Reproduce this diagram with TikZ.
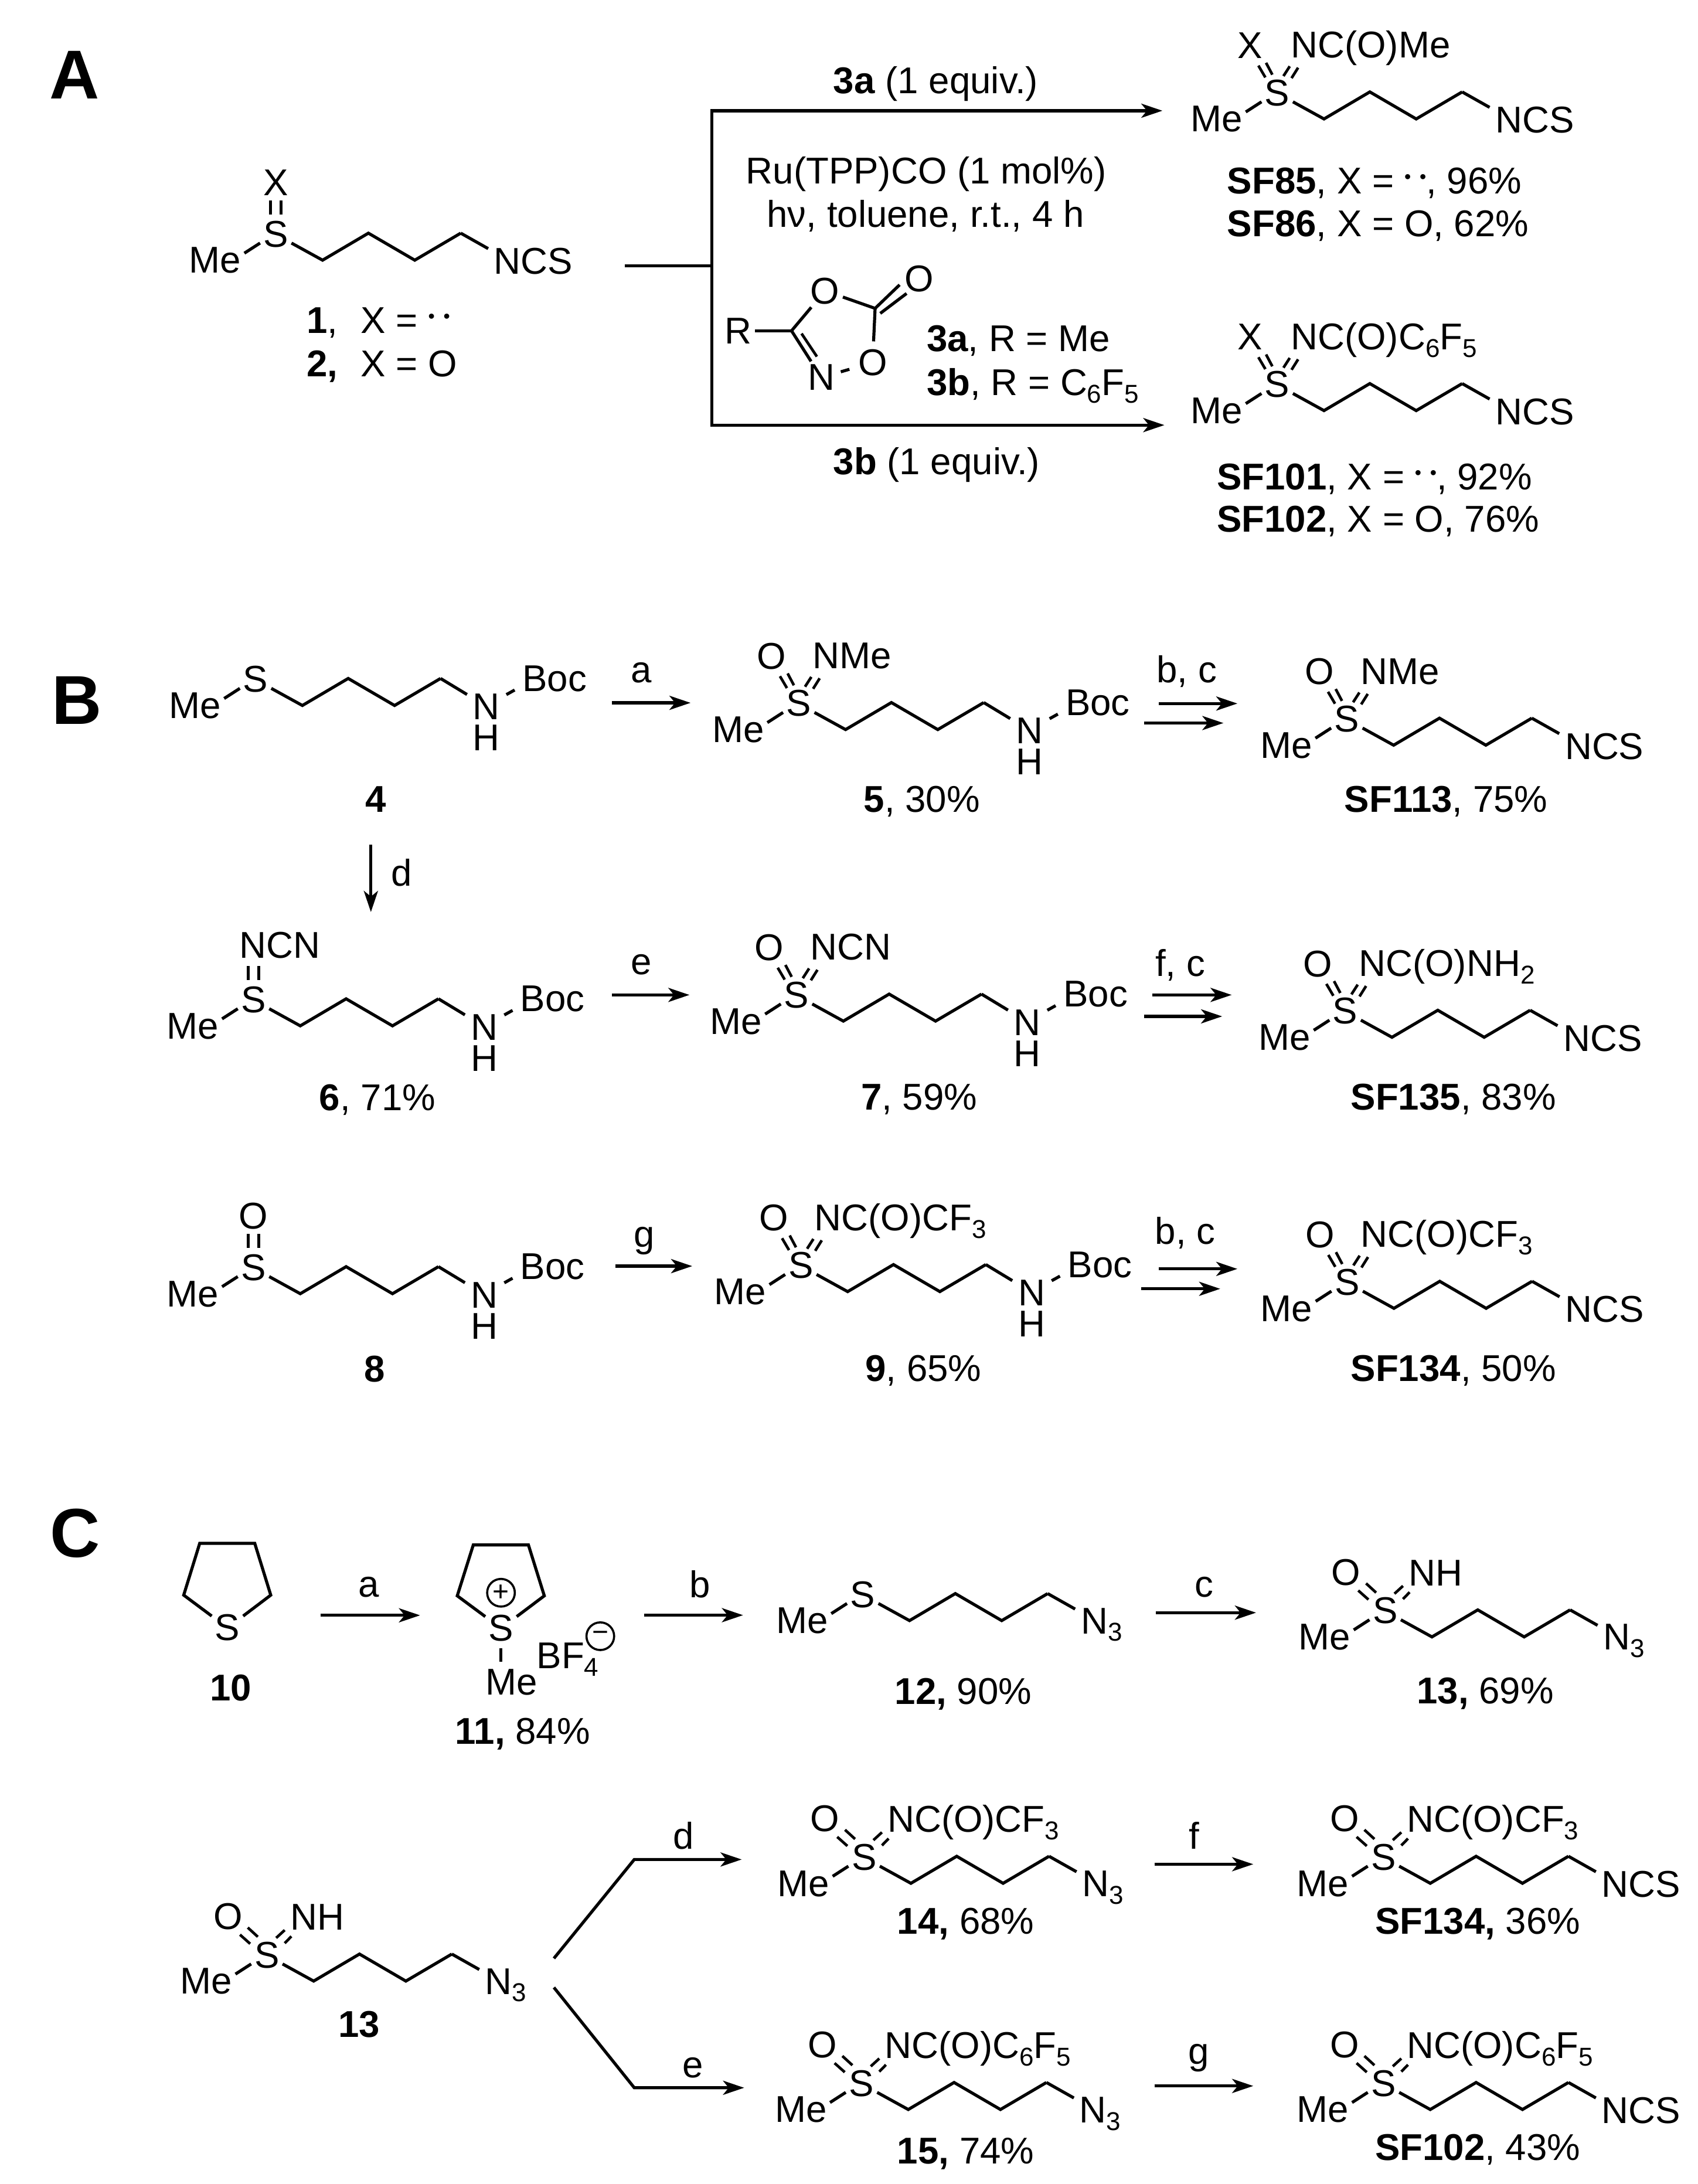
\documentclass[tikz,border=0pt]{standalone}
\usepackage{fontspec}
\setmainfont{Liberation Sans}
\usetikzlibrary{arrows.meta}
\newcommand{\sbs}[1]{\raisebox{-3.2pt}{\fontsize{11}{11}\selectfont #1}}
\newcommand{\lpair}{\raisebox{4.5pt}{\fontsize{8}{8}\selectfont •\kern3.7pt•}}
\tikzset{
  x=0.594pt,y=-0.594pt,
  every node/.style={font=\fontsize{15.9}{17}\selectfont,inner sep=0pt,text=black},
  atom/.style={inner sep=1.2pt,anchor=center},
  lab/.style={anchor=base west},
  labc/.style={anchor=base},
  panel/.style={anchor=base,font=\fontsize{29.5}{30}\selectfont\bfseries},
  bond/.style={draw=black,line width=1.3pt,line join=miter},
  thin bond/.style={draw=black,line width=1.15pt},
  rxn/.style={draw=black,line width=1.3pt,-{Stealth[length=9pt,width=6pt,inset=2.4pt]}},
  plainrxn/.style={draw=black,line width=1.3pt},
  charge/.style={circle,draw=black,line width=0.9pt,minimum size=11.8pt,inner sep=0pt,font=\fontsize{12}{12}\selectfont}
}
% molecule: prefix, x, y, upper part, tail part
\newcommand{\mol}[5]{%
\begin{scope}[shift={(#2,#3)}]
  \node[atom] (#1S) at (0,0) {S};
  \node[atom] (#1M) at (-43.5,19) {Me};
  \coordinate (#1c1) at (33.6,18.8);
  \coordinate (#1c2) at (66.5,-0.6);
  \coordinate (#1c3) at (99.8,18.8);
  \coordinate (#1c4) at (132.8,-0.6);
  \draw[bond] (#1M.14) -- (#1S.210);
  \draw[bond] (#1S.-30) -- (#1c1) -- (#1c2) -- (#1c3) -- (#1c4);
  #4
  #5
\end{scope}}
% upper groups, narrow (panels A and B)
\newcommand{\upn}[3]{%
  \node[atom] (#1X) at (-19.5,-34) {#2};
  \node[lab] (#1G) at (9.5,-25) {#3};
  \draw[thin bond] (-13.5,-19.5) -- (-8.5,-11);
  \draw[thin bond] (-8,-21.5) -- (-3.5,-13);
  \draw[thin bond] (15,-18) -- (10.3,-10.5);
  \draw[thin bond] (9,-19) -- (4.5,-12);}
% upper groups, wide (panel C)
\newcommand{\upw}[3]{%
  \node[atom] (#1X) at (-28,-27.5) {#2};
  \node[lab] (#1G) at (16.5,-18) {#3};
  \draw[thin bond] (-19.3,-14.5) -- (-12,-8);
  \draw[thin bond] (-13.7,-19.6) -- (-6.5,-13);
  \draw[thin bond] (6.7,-12.2) -- (12.8,-17.8);
  \draw[thin bond] (12.8,-8.4) -- (17.6,-13.3);}
% upper group, vertical double bond
\newcommand{\upv}[2]{%
  \node[atom] (#1X) at (0,-37) {#2};
  \draw[thin bond] (-3.8,-24) -- (-3.8,-14);
  \draw[thin bond] (3.8,-24) -- (3.8,-14);}
\newcommand{\upvn}[2]{%
  \node[lab] (#1X) at (-10.4,-30) {#2};
  \draw[thin bond] (-3.8,-24) -- (-3.8,-14);
  \draw[thin bond] (3.8,-24) -- (3.8,-14);}
% chain tails
\newcommand{\tailncs}[1]{%
  \coordinate (#1c6) at (152.5,10.5);
  \node[lab] (#1E) at (156.3,28.8) {NCS};
  \draw[bond] (#1c4) -- (#1c6);}
\newcommand{\tailaz}[1]{%
  \coordinate (#1c6) at (152.5,10.5);
  \node[lab] (#1E) at (156.3,28.2) {N\sbs{3}};
  \draw[bond] (#1c4) -- (#1c6);}
\newcommand{\tailboc}[1]{%
  \coordinate (#1c6) at (151.8,10.9);
  \coordinate (#1b) at (186,7.7);
  \node[atom] (#1N) at (165.7,19.8) {N};
  \node[anchor=center] (#1H) at (165.7,42) {H};
  \node[atom] (#1B) at (214.7,-0.5) {Boc};
  \draw[bond] (#1c4) -- (#1c6);
  \draw[bond,shorten <=1.6pt] (#1N.32) -- (#1b);}
\newcommand{\rxnh}[4]{%
  \coordinate (#1s) at (#2,#3); \coordinate (#1e) at (#4,#3);
  \draw[rxn] (#1s) -- (#1e);}
\begin{document}
\begin{tikzpicture}
\useasboundingbox (0,0) rectangle (1219,1568);
\path[fill=white] (0,0) rectangle (1219,1568);

% ---------- panel letters
\node[panel] (pA) at (53.7,71) {A};
\node[panel] (pB) at (55,520) {B};
\node[panel] (pC) at (54,1118) {C};

% ---------- panel A
\mol{a}{198}{168}{\upv{a}{X}}{\tailncs{a}}
\node[lab] (l1) at (220,239.4) {\makebox[23pt][l]{\textbf{1},}X = \lpair};
\node[lab] (l2) at (220,270.5) {\makebox[23pt][l]{\textbf{2,}}X = O};

\coordinate (jstart) at (448.8,191);
\coordinate (jmid) at (511,191);
\coordinate (jtop) at (511,79.5);
\coordinate (jbot) at (511,305.2);
\coordinate (etop) at (834.6,79.5);
\coordinate (ebot) at (836,305.2);
\draw[plainrxn] (jstart) -- (jmid);
\draw[rxn] (jmid) -- (jtop) -- (etop);
\draw[rxn] (jmid) -- (jbot) -- (ebot);
\node[lab] (c3a) at (598,67) {\textbf{3a} (1 equiv.)};
\node[lab] (c3b) at (598,340.8) {\textbf{3b} (1 equiv.)};
\node[labc] (ru) at (665,132) {Ru(TPP)CO (1 mol\%)};
\node[labc] (hv) at (664.5,163.2) {hν, toluene, r.t., 4 h};

% oxadiazolone
\node[atom] (rR) at (530.2,237.5) {R};
\node[atom] (rO1) at (592.4,208.8) {O};
\node[atom] (rO2) at (626.5,260.3) {O};
\node[atom] (rO3) at (659.8,200) {O};
\node[atom] (rN) at (589.7,271) {N};
\coordinate (rC3) at (568.3,237.5);
\coordinate (rC5) at (628.3,221.4);
\coordinate (rC3b) at (575.5,239.5);
\coordinate (rC3c) at (586.5,256);
\coordinate (rD1) at (645.9,204.5);
\coordinate (rD2) at (632,225);
\coordinate (rD3) at (650.9,210.7);
\draw[bond] (rR) -- (rC3);
\draw[bond] (rC3) -- (rO1);
\draw[bond] (rC3) -- (rN);
\draw[thin bond] (rC3b) -- (rC3c);
\draw[bond] (rO1) -- (rC5);
\draw[bond,shorten >=2pt] (rC5) -- (rO2);
\draw[bond,shorten <=1.2pt,shorten >=2.4pt] (rN) -- (rO2);
\draw[bond] (rC5) -- (rD1);
\draw[bond] (rD2) -- (rD3);
\node[lab] (k3a) at (665,252.3) {\textbf{3a}, R = Me};
\node[lab] (k3b) at (665,284) {\textbf{3b}, R = C\sbs{6}F\sbs{5}};

\mol{s85}{917}{66.6}{\upn{s85}{X}{NC(O)Me}}{\tailncs{s85}}
\node[lab] (n85) at (880.8,139) {\textbf{SF85}, X = \lpair, 96\%};
\node[lab] (n86) at (880.8,169.6) {\textbf{SF86}, X = O, 62\%};
\mol{s101}{917}{276}{\upn{s101}{X}{NC(O)C\sbs{6}F\sbs{5}}}{\tailncs{s101}}
\node[lab] (n101) at (873.4,351.6) {\textbf{SF101}, X = \lpair, 92\%};
\node[lab] (n102) at (873.4,381.9) {\textbf{SF102}, X = O, 76\%};

% ---------- panel B
\mol{m4}{183.5}{487.7}{}{\tailboc{m4}}
\node[labc] (n4) at (270,583.1) {\textbf{4}};
\rxnh{ba}{439.4}{504.6}{495.8}
\node[labc] (ta) at (460.3,490.1) {a};
\mol{m5}{573.5}{505}{\upn{m5}{O}{NMe}}{\tailboc{m5}}
\node[lab] (n5) at (619.8,583.1) {\textbf{5}, 30\%};
\rxnh{bb1}{832}{505.1}{888.4}
\rxnh{bb2}{821.5}{519.1}{878.4}
\node[labc] (tbc) at (852,490.1) {b, c};
\mol{m113}{967}{516.2}{\upn{m113}{O}{NMe}}{\tailncs{m113}}
\node[lab] (n113) at (965,583.1) {\textbf{SF113}, 75\%};

\coordinate (bds) at (266.3,606.5);
\coordinate (bde) at (266.3,654.8);
\draw[rxn] (bds) -- (bde);
\node[labc] (td) at (288.3,636.2) {d};

\mol{m6}{182}{717.7}{\upvn{m6}{NCN}}{\tailboc{m6}}
\node[lab] (n6) at (229,797.4) {\textbf{6}, 71\%};
\rxnh{be}{439.4}{714.3}{495}
\node[labc] (te) at (460.3,699.8) {e};
\mol{m7}{571.9}{714.3}{\upn{m7}{O}{NCN}}{\tailboc{m7}}
\node[lab] (n7) at (617.9,796.9) {\textbf{7}, 59\%};
\rxnh{bf1}{827.4}{714.3}{884.3}
\rxnh{bf2}{821.5}{729.7}{877.5}
\node[labc] (tfc) at (847.4,700.7) {f, c};
\mol{m135}{965.8}{725.9}{\upn{m135}{O}{NC(O)NH\sbs{2}}}{\tailncs{m135}}
\node[lab] (n135) at (969.5,796.9) {\textbf{SF135}, 83\%};

\mol{m8}{182}{910}{\upv{m8}{O}}{\tailboc{m8}}
\node[labc] (n8) at (269,992) {\textbf{8}};
\rxnh{bg}{442}{909}{497}
\node[labc] (tg) at (462.5,895.5) {g};
\mol{m9}{575}{908.5}{\upn{m9}{O}{NC(O)CF\sbs{3}}}{\tailboc{m9}}
\node[lab] (n9) at (621,991.6) {\textbf{9}, 65\%};
\rxnh{bh1}{832}{911}{888.4}
\rxnh{bh2}{819.2}{925.3}{876.1}
\node[labc] (tbc2) at (851,893.1) {b, c};
\mol{m134}{967.2}{920.5}{\upn{m134}{O}{NC(O)CF\sbs{3}}}{\tailncs{m134}}
\node[lab] (n134) at (969.5,991.6) {\textbf{SF134}, 50\%};

% ---------- panel C
\node[atom] (t10S) at (163.3,1168.4) {S};
\coordinate (t10a) at (131.9,1145.2);
\coordinate (t10b) at (143.4,1108);
\coordinate (t10c) at (182.9,1108);
\coordinate (t10d) at (194.4,1145.2);
\draw[bond] (t10S.144) -- (t10a) -- (t10b) -- (t10c) -- (t10d) -- (t10S.36);
\node[labc] (n10) at (165.8,1221) {\textbf{10}};
\rxnh{ca}{230}{1159.7}{301.6}
\node[labc] (tca) at (264.6,1146.6) {a};

\node[atom] (t11S) at (359.7,1168.8) {S};
\coordinate (t11a) at (328.3,1145.7);
\coordinate (t11b) at (339.8,1109.2);
\coordinate (t11c) at (379.4,1109.2);
\coordinate (t11d) at (390.8,1145.7);
\draw[bond] (t11S.144) -- (t11a) -- (t11b) -- (t11c) -- (t11d) -- (t11S.36);
\node[charge] (t11p) at (359.7,1143.5) {+};
\node[labc] (t11M) at (367.4,1216.8) {Me};
\coordinate (t11m) at (359.7,1193);
\draw[bond,shorten <=1.6pt] (t11S.south) -- (t11m);
\node[lab] (t11B) at (385,1198) {BF\sbs{4}};
\node[charge] (t11n) at (431,1174.7) {−};
\node[lab] (n11) at (326.6,1252) {\textbf{11,} 84\%};
\rxnh{cb}{462.4}{1159.6}{533.5}
\node[labc] (tcb) at (502.7,1146.8) {b};

\mol{m12}{619.4}{1144.7}{}{\tailaz{m12}}
\node[lab] (n12) at (642.2,1223.6) {\textbf{12,} 90\%};
\rxnh{cc}{830}{1157.8}{901.8}
\node[labc] (tcc) at (864.5,1146.6) {c};
\mol{m13}{994.5}{1156.4}{\upw{m13}{O}{NH}}{\tailaz{m13}}
\node[lab] (n13) at (1016.9,1223.3) {\textbf{13,} 69\%};

\mol{b13}{191.6}{1403.5}{\upw{b13}{O}{NH}}{\tailaz{b13}}
\node[labc] (nb13) at (257.9,1462.4) {\textbf{13}};
\coordinate (dsa) at (397.7,1406);
\coordinate (dco) at (455.4,1335);
\coordinate (dend) at (532.5,1335);
\draw[rxn] (dsa) -- (dco) -- (dend);
\node[labc] (tcd) at (490.9,1327.5) {d};
\coordinate (esa) at (397.7,1426.9);
\coordinate (eco) at (455.4,1498.9);
\coordinate (eend) at (534.3,1498.9);
\draw[rxn] (esa) -- (eco) -- (eend);
\node[labc] (tce) at (497.6,1491.7) {e};

\mol{m14}{620.4}{1333.3}{\upw{m14}{O}{NC(O)CF\sbs{3}}}{\tailaz{m14}}
\node[lab] (n14) at (643.9,1388.7) {\textbf{14,} 68\%};
\mol{m15}{618.5}{1495.7}{\upw{m15}{O}{NC(O)C\sbs{6}F\sbs{5}}}{\tailaz{m15}}
\node[lab] (n15) at (643.9,1553.4) {\textbf{15,} 74\%};
\rxnh{cf}{828.9}{1338.4}{899.8}
\node[labc] (tcf) at (857.3,1327.5) {f};
\rxnh{cg}{828.9}{1497.6}{899.8}
\node[labc] (tcg) at (860.7,1482) {g};
\mol{s134}{993.3}{1333.3}{\upw{s134}{O}{NC(O)CF\sbs{3}}}{\tailncs{s134}}
\node[lab] (ns134) at (987,1388.7) {\textbf{SF134,} 36\%};
\mol{s102}{993.3}{1495.7}{\upw{s102}{O}{NC(O)C\sbs{6}F\sbs{5}}}{\tailncs{s102}}
\node[lab] (ns102) at (987,1551.1) {\textbf{SF102}, 43\%};
\end{tikzpicture}
\end{document}
